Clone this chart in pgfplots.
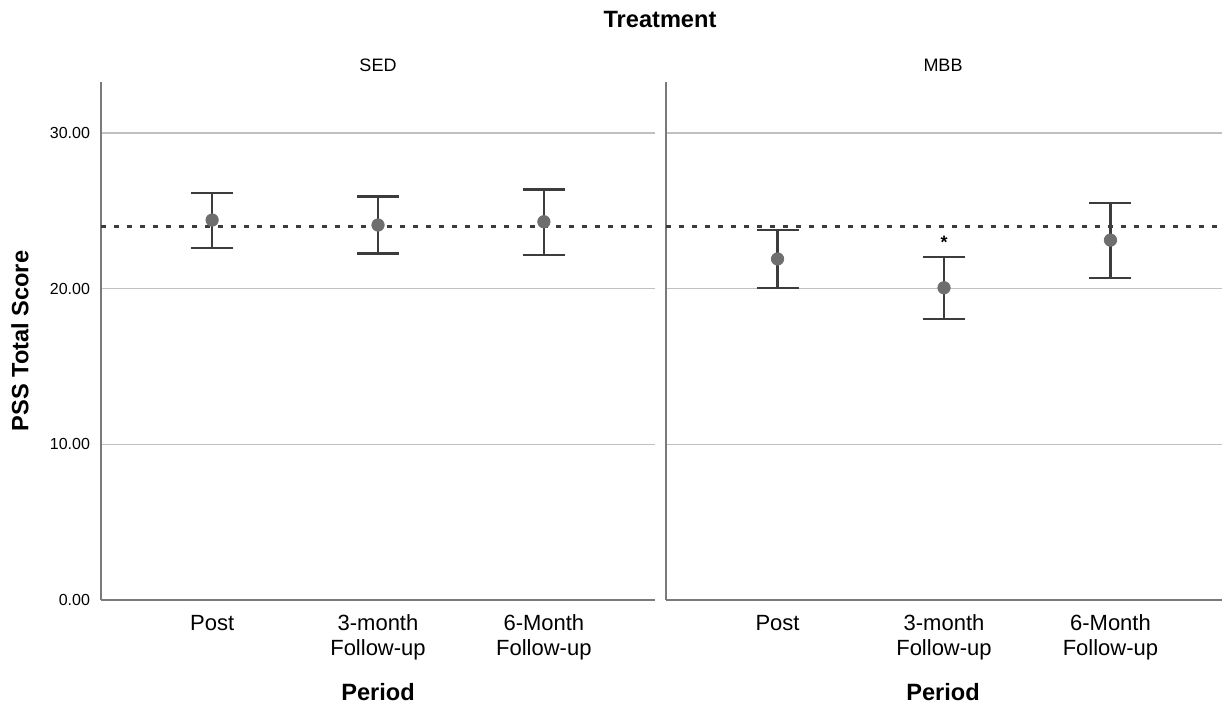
\documentclass[border=0pt]{standalone}
\usepackage{pgfplots}
\pgfplotsset{compat=1.18}
\usepackage{pgfplotstable}
\usepackage{fontspec}
\setmainfont{Liberation Sans}
\definecolor{barc}{HTML}{3C3C3C}
\definecolor{markc}{HTML}{6E6E6E}
\definecolor{gridc}{HTML}{C0C0C0}
\definecolor{axc}{HTML}{7A7A7A}
\pgfplotstableread{
x y ep em
1 24.41 1.72 1.78
2 24.09 1.82 1.82
3 24.30 2.08 2.14
}\sed
\pgfplotstableread{
x y ep em
1 21.91 1.86 1.85
2 20.06 1.99 2.01
3 23.12 2.40 2.42
}\mbb
\pgfplotsset{
  panel/.style={
    scale only axis, anchor=south west,
    height=259pt,
    xmin=0.33, xmax=3.67, ymin=0, ymax=33.28,
    axis lines*=left,
    axis line style={draw=axc, line width=0.8pt},
    xtick={1,2,3},
    xticklabels={Post,{3-month\\Follow-up},{6-Month\\Follow-up}},
    xticklabel style={align=center, font=\fontsize{11}{12.3}\selectfont, yshift=-4pt},
    ytick={0,10,20,30},
    major tick length=0pt,
    ymajorgrids, grid style={draw=gridc, line width=0.75pt},
    yticklabel style={font=\fontsize{8}{9}\selectfont, xshift=-2pt, /pgf/number format/.cd, fixed, fixed zerofill, precision=2},
    /pgf/number format/assume math mode=true,
    clip=false,
  },
  ebar/.style={draw=none, mark=none,
    error bars/.cd, y dir=both, y explicit,
    error bar style={draw=barc, line width=1.2pt},
    error mark options={draw=barc, line width=1.2pt, mark size=10.5pt, rotate=90}},
  means/.style={only marks, mark=*, mark size=3.1pt, mark options={fill=markc, draw=markc}},
  refline/.style={draw=barc, line width=1.3pt, dash pattern=on 2.5pt off 4pt},
}
\begin{document}
\begin{tikzpicture}
\useasboundingbox (0,0) rectangle (611pt,355pt);
\begin{axis}[panel, at={(50.5pt,55pt)}, width=277pt]
\addplot[ebar] table[x=x, y=y, y error plus=ep, y error minus=em] {\sed};
\addplot[means] table[x=x, y=y] {\sed};
\addplot[refline] coordinates {(0.33,24) (3.67,24)};
\end{axis}
\begin{axis}[panel, at={(333pt,55pt)}, width=278pt, yticklabels={}]
\addplot[ebar] table[x=x, y=y, y error plus=ep, y error minus=em] {\mbb};
\addplot[means] table[x=x, y=y] {\mbb};
\addplot[refline] coordinates {(0.33,24) (3.68,24)};
\node[font=\bfseries\fontsize{9}{10}\selectfont] at (axis cs:2,22.95) {*};
\end{axis}
\node[font=\bfseries\fontsize{11.8}{13}\selectfont] at (330pt,345pt) {Treatment};
\node[font=\fontsize{9}{10}\selectfont] at (189pt,322.5pt) {SED};
\node[font=\fontsize{9}{10}\selectfont] at (471.5pt,322.5pt) {MBB};
\node[font=\bfseries\fontsize{11.8}{13}\selectfont] at (189pt,9pt) {Period};
\node[font=\bfseries\fontsize{11.8}{13}\selectfont] at (471.5pt,9pt) {Period};
\node[font=\bfseries\fontsize{11.8}{13}\selectfont, rotate=90] at (10pt,184.5pt) {PSS Total Score};
\end{tikzpicture}
\end{document}
